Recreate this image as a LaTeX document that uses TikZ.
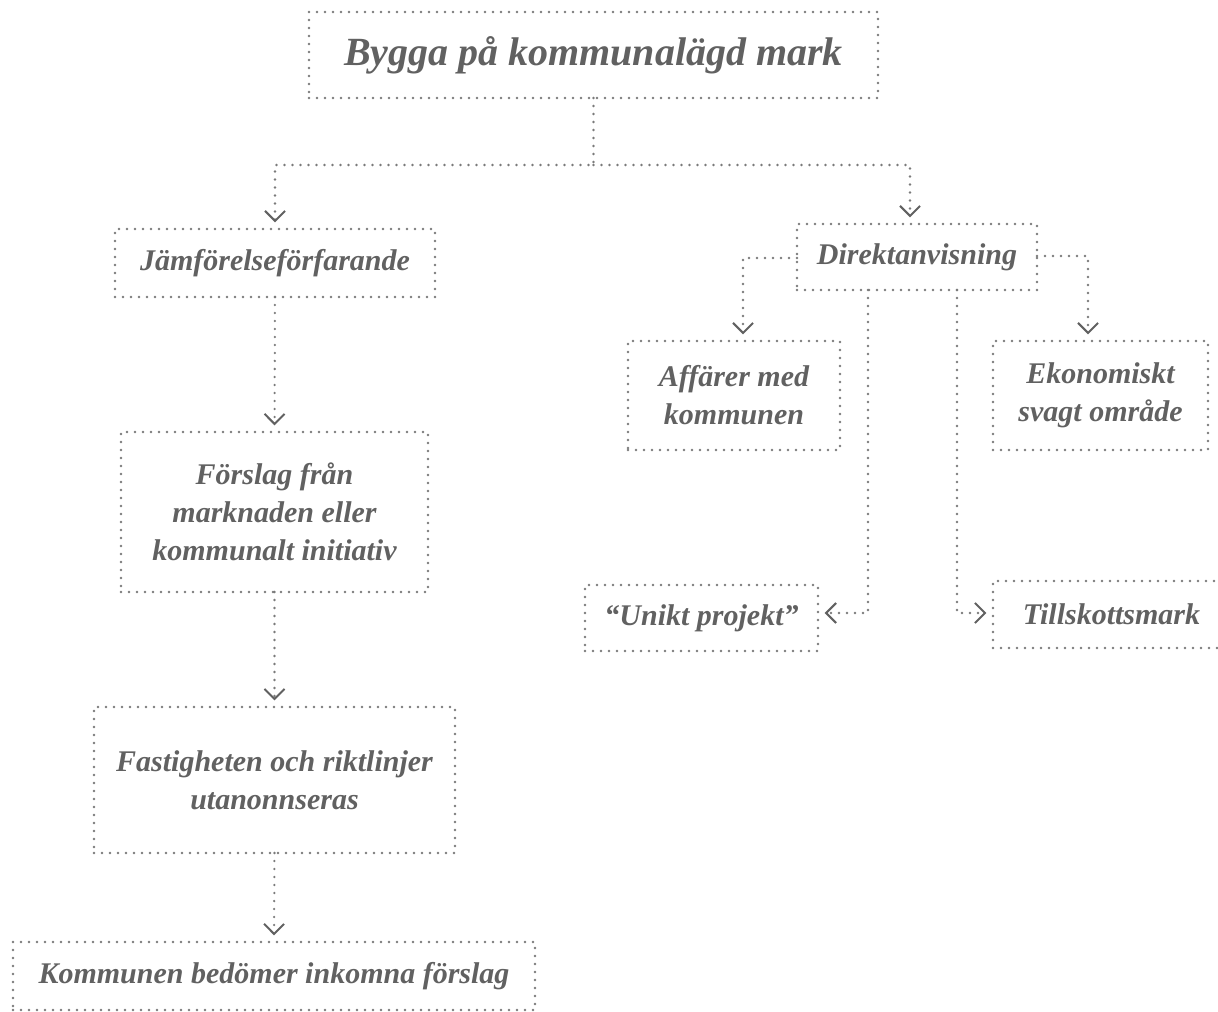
\documentclass[tikz,border=0pt]{standalone}
\usepackage{fontspec}
\setmainfont{Liberation Serif}
\usetikzlibrary{arrows.meta}
\definecolor{txt}{HTML}{616161}
\definecolor{dotc}{HTML}{7A7A7A}
\def\u{0.75pt}
\tikzset{
  x=0.75pt, y=-0.75pt,
  box/.style={draw=dotc, line width=1.9pt, dash pattern=on 0pt off 6pt, line cap=round,
    text=txt, font=\fontsize{22.5}{28.5}\selectfont\bfseries\itshape, align=center,
    inner sep=0pt, outer sep=0pt},
  conn/.style={draw=dotc, line width=1.9pt, dash pattern=on 0pt off 6pt, line cap=round},
  arr/.style={conn, -{Straight Barb[length=7.5pt,width=15pt,line width=1.5pt,color=txt]}, shorten >=5pt}
}
\begin{document}
\begin{tikzpicture}
\useasboundingbox (0,0) rectangle (1218,1012);
\clip (0,0) rectangle (1218,1012);
% nodes
\node[box, minimum width=569*\u, minimum height=86*\u, font=\fontsize{30}{34}\selectfont\bfseries\itshape] (title) at (593.5,55) {Bygga på kommunalägd mark};
\node[box, minimum width=320*\u, minimum height=68*\u] (jam) at (275,263) {Jämförelseförfarande};
\node[box, minimum width=307*\u, minimum height=160*\u] (forslag) at (274.5,512) {Förslag från\\marknaden eller\\kommunalt initiativ};
\node[box, minimum width=361*\u, minimum height=146*\u] (fast) at (274.5,780) {Fastigheten och riktlinjer\\utanonnseras};
\node[box, minimum width=522*\u, minimum height=68*\u] (komm) at (274,976) {Kommunen bedömer inkomna förslag};
\node[box, minimum width=240*\u, minimum height=66*\u] (dir) at (917,257) {Direktanvisning};
\node[box, minimum width=212*\u, minimum height=109*\u] (aff) at (734,395.5) {Affärer med\\kommunen};
\node[box, minimum width=215*\u, minimum height=109*\u] (eko) at (1100.5,395.5) {Ekonomiskt\\svagt område};
\node[box, minimum width=233*\u, minimum height=66*\u] (unik) at (701.5,618) {``Unikt projekt''};
\node[box, minimum width=237*\u, minimum height=67*\u] (till) at (1111.5,614.5) {Tillskottsmark};
% coordinates
\coordinate (split) at (593.5,165);
% connectors
\draw[arr] (title.south) -- (split) -| (jam.north);
\draw[arr] (split) -| (dir.north -| 910,0);
\draw[arr] (jam.south) -- (forslag.north);
\draw[arr] (forslag.south) -- (fast.north);
\draw[arr] (fast.south) -- (komm.north);
\draw[arr] (dir.west |- 0,258) -| (aff.north -| 743,0);
\draw[arr] (dir.east |- 0,256) -| (1088,0 |- eko.north);
\draw[arr] (868,0 |- dir.south) -- (868,613) -- (unik.east |- 0,613);
\draw[arr] (957,0 |- dir.south) -- (957,613) -- (till.west |- 0,613);
\end{tikzpicture}
\end{document}
